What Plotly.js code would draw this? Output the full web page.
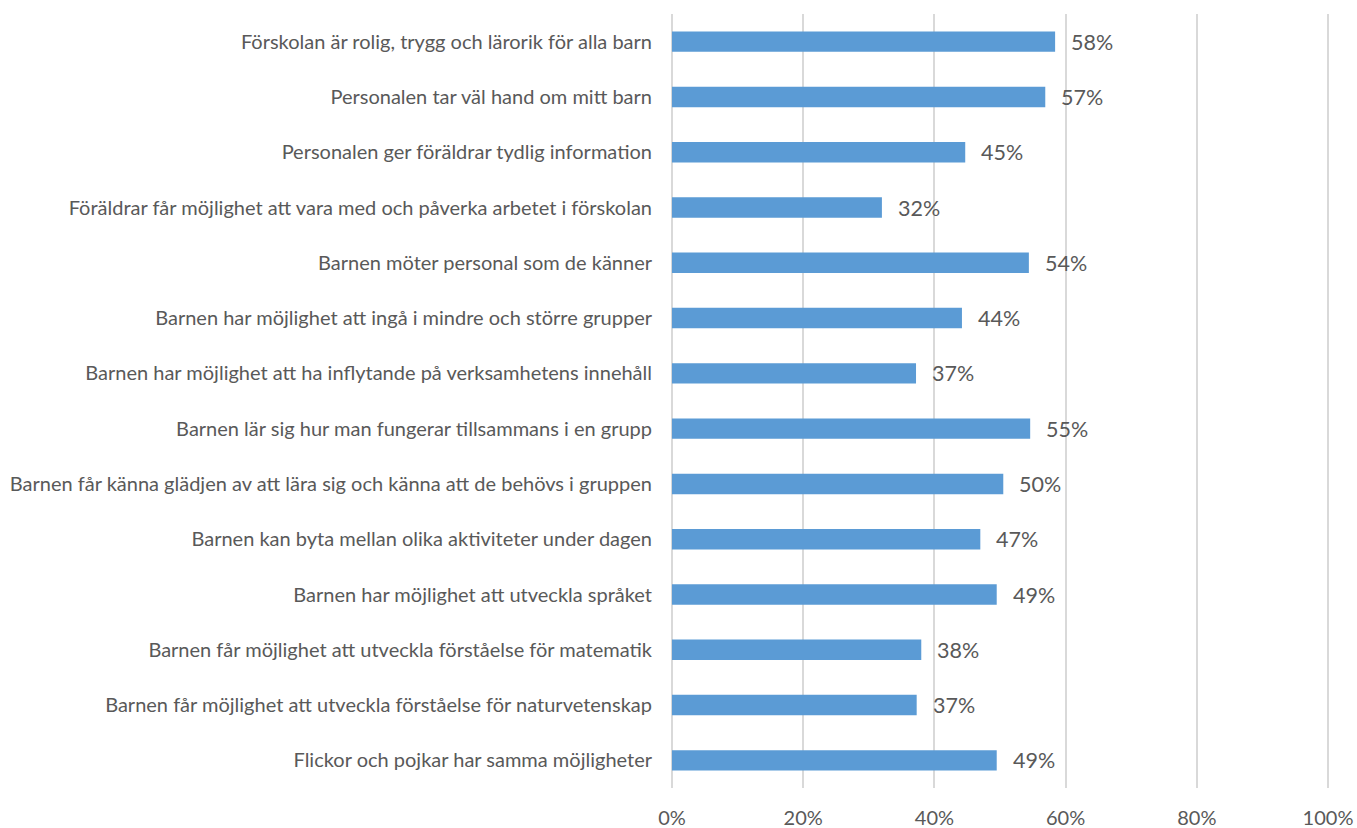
<!DOCTYPE html>
<html>
<head>
<meta charset="utf-8">
<script src="https://cdn.plot.ly/plotly-3.0.1.min.js"></script>
<style>html,body{margin:0;padding:0;background:#fff;}#chart{width:1357px;height:828px;}</style>
</head>
<body>
<div id="chart"></div>
<script>
const categories = [
  "Förskolan är rolig, trygg och lärorik för alla barn",
  "Personalen tar väl hand om mitt barn",
  "Personalen ger föräldrar tydlig information",
  "Föräldrar får möjlighet att vara med och påverka arbetet i förskolan",
  "Barnen möter personal som de känner",
  "Barnen har möjlighet att ingå i mindre och större grupper",
  "Barnen har möjlighet att ha inflytande på verksamhetens innehåll",
  "Barnen lär sig hur man fungerar tillsammans i en grupp",
  "Barnen får känna glädjen av att lära sig och känna att de behövs i gruppen",
  "Barnen kan byta mellan olika aktiviteter under dagen",
  "Barnen har möjlighet att utveckla språket",
  "Barnen får möjlighet att utveckla förståelse för matematik",
  "Barnen får möjlighet att utveckla förståelse för naturvetenskap",
  "Flickor och pojkar har samma möjligheter"
];
const values = [0.584, 0.569, 0.447, 0.320, 0.544, 0.442, 0.372, 0.546, 0.505, 0.470, 0.495, 0.380, 0.373, 0.495];
const valueLabels = ["58%", "57%", "45%", "32%", "54%", "44%", "37%", "55%", "50%", "47%", "49%", "38%", "37%", "49%"];
const tickVals = [0, 0.2, 0.4, 0.6, 0.8, 1.0];
const tickText = ["0%", "20%", "40%", "60%", "80%", "100%"];

const FONT = "Lato, 'Open Sans', sans-serif";
const TXT = "#595959";

const trace = {
  type: "bar",
  orientation: "h",
  x: values,
  y: categories,
  marker: { color: "#5B9BD5" },
  width: 0.37,
  hoverinfo: "skip"
};

const annotations = values.map((v, i) => ({
  x: v, y: categories[i], xref: "x", yref: "y",
  text: valueLabels[i], showarrow: false,
  xanchor: "left", yanchor: "middle", xshift: 14,
  font: { family: FONT, size: 21.5, color: TXT }
}));

const layout = {
  width: 1357, height: 828,
  margin: { l: 670, r: 27, t: 14, b: 40 },
  paper_bgcolor: "#fff", plot_bgcolor: "#fff",
  showlegend: false,
  font: { family: FONT, color: TXT },
  xaxis: {
    range: [-0.003, 1.003], tickvals: tickVals, ticktext: tickText,
    showgrid: true, gridcolor: "#D9D9D9", gridwidth: 2,
    zeroline: false, showline: false,
    ticks: "outside", ticklen: 12, tickcolor: "rgba(0,0,0,0)",
    tickfont: { family: FONT, size: 20, color: TXT },
    fixedrange: true
  },
  yaxis: {
    type: "category", autorange: "reversed",
    showgrid: false, zeroline: false, showline: false,
    ticks: "outside", ticklen: 13, tickcolor: "rgba(0,0,0,0)",
    tickfont: { family: FONT, size: 20, color: TXT },
    fixedrange: true
  },
  annotations: annotations
};

Plotly.newPlot("chart", [trace], layout, { displayModeBar: false, staticPlot: true });
</script>
</body>
</html>
